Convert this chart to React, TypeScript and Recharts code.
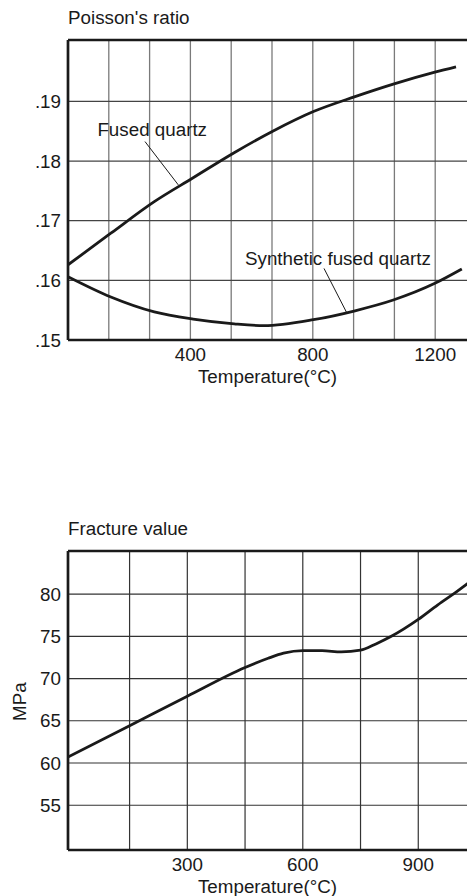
import React from 'react'
import {
  LineChart,
  Line,
  XAxis,
  YAxis,
  CartesianGrid,
  ReferenceLine,
  ReferenceDot,
} from 'recharts'

// Poisson's ratio vs temperature
const fusedTemp = [0, 140, 282, 409, 543, 669, 802, 938, 1063, 1199, 1268]
const fusedRatio = [0.1626, 0.1679, 0.1732, 0.1772, 0.1814, 0.185, 0.1883, 0.1908, 0.1929, 0.1949, 0.1958]
const synthTemp = [0, 140, 282, 409, 543, 640, 802, 938, 1063, 1199, 1287]
const synthRatio = [0.1606, 0.1572, 0.1547, 0.1535, 0.1527, 0.1524, 0.1534, 0.1549, 0.1567, 0.1595, 0.1619]
const ratioTicks = [0.15, 0.16, 0.17, 0.18, 0.19]
const ratioGridTemps = [0, 133.33, 266.67, 400, 533.33, 666.67, 800, 933.33, 1066.67, 1200]
const ratioTempLabels = [400, 800, 1200]

// Fracture value vs temperature
const fractureTemp = [-10, 150, 300, 450, 510, 550, 600, 650, 700, 750, 790, 830, 900, 950, 1000, 1030]
const fractureMPa = [60.7, 64.4, 67.9, 71.3, 72.4, 73.0, 73.3, 73.3, 73.15, 73.35, 74.1, 75.0, 77.0, 78.7, 80.3, 81.3]
const mpaTicks = [55, 60, 65, 70, 75, 80]
const fractureGridTemps = [150, 300, 450, 600, 750, 900]
const fractureTempLabels = [300, 600, 900]

const INK = '#1a1a1a'
const FONT = '"Liberation Sans", Arial, Helvetica, sans-serif'
const FS = 18.8
const tickStyle = { fontSize: FS, fill: INK }
const frame = { stroke: INK, strokeWidth: 2.7 }

const fusedData = fusedTemp.map((t, i) => ({ t, v: fusedRatio[i] }))
const synthData = synthTemp.map((t, i) => ({ t, v: synthRatio[i] }))
const fractureData = fractureTemp.map((t, i) => ({ t, v: fractureMPa[i] }))

const RATIO_DOMAIN: [number, number] = [0.15, 0.2003]
const MPA_DOMAIN: [number, number] = [49.7, 85.1]

const annotation = (text: string) => (p: any) => (
  <text x={p.cx} y={p.cy} fontSize={FS} fill={INK}>
    {text}
  </text>
)

function PoissonChart() {
  return (
    <LineChart width={476} height={400} margin={{ top: 40, right: 0, bottom: 0, left: 0 }}>
      <CartesianGrid horizontal={false} stroke="#7a7a7a" strokeWidth={1.3} />
      <CartesianGrid vertical={false} stroke="#444" strokeWidth={1.2} />
      <XAxis
        dataKey="t"
        type="number"
        domain={[0, 1333.33]}
        ticks={ratioGridTemps}
        interval={0}
        allowDataOverflow
        tickLine={false}
        axisLine={frame}
        tick={tickStyle}
        tickFormatter={(v) => (ratioTempLabels.includes(v) ? String(v) : '')}
        height={60}
        label={{ value: 'Temperature(°C)', position: 'insideBottom', offset: 16.7, dx: -4.5, fontSize: FS, fill: INK }}
      />
      <YAxis
        type="number"
        domain={RATIO_DOMAIN}
        ticks={ratioTicks}
        allowDataOverflow
        width={68}
        tickLine={false}
        axisLine={frame}
        tick={tickStyle}
        tickMargin={1}
        tickFormatter={(v) => '.' + Math.round(v * 100)}
      />
      <ReferenceLine y={RATIO_DOMAIN[1]} {...frame} />
      <Line data={fusedData} dataKey="v" type="monotone" stroke={INK} strokeWidth={2.8} dot={false} activeDot={false} isAnimationActive={false} />
      <Line data={synthData} dataKey="v" type="monotone" stroke={INK} strokeWidth={2.8} dot={false} activeDot={false} isAnimationActive={false} />
      <ReferenceLine segment={[{ x: 251.6, y: 0.18327 }, { x: 360.5, y: 0.176 }]} stroke={INK} strokeWidth={1} />
      <ReferenceLine segment={[{ x: 836.6, y: 0.162 }, { x: 910.8, y: 0.15458 }]} stroke={INK} strokeWidth={1} />
      <ReferenceDot x={96} y={0.1842} r={0} shape={annotation('Fused quartz')} />
      <ReferenceDot x={578.4} y={0.16258} r={0} shape={annotation('Synthetic fused quartz')} />
    </LineChart>
  )
}

function FractureChart() {
  return (
    <LineChart width={476} height={399} margin={{ top: 40, right: 0, bottom: 0, left: 0 }}>
      <CartesianGrid stroke="#333" strokeWidth={1.2} />
      <XAxis
        dataKey="t"
        type="number"
        domain={[-10, 1050]}
        ticks={fractureGridTemps}
        interval={0}
        allowDataOverflow
        tickLine={false}
        axisLine={frame}
        tick={tickStyle}
        tickFormatter={(v) => (fractureTempLabels.includes(v) ? String(v) : '')}
        height={60}
        label={{ value: 'Temperature(°C)', position: 'insideBottom', offset: 16.7, dx: -4.5, fontSize: FS, fill: INK }}
      />
      <YAxis
        type="number"
        domain={MPA_DOMAIN}
        ticks={mpaTicks}
        allowDataOverflow
        width={68}
        tickLine={false}
        axisLine={frame}
        tick={tickStyle}
        tickMargin={1}
      />
      <ReferenceLine y={MPA_DOMAIN[1]} {...frame} />
      <Line data={fractureData} dataKey="v" type="monotone" stroke={INK} strokeWidth={2.8} dot={false} activeDot={false} isAnimationActive={false} />
    </LineChart>
  )
}

export default function App() {
  return (
    <div
      style={{
        position: 'fixed',
        left: 0,
        top: 0,
        width: 467,
        height: 896,
        overflow: 'hidden',
        background: '#fff',
        fontFamily: FONT,
      }}
    >
      <div style={{ position: 'absolute', left: 0, top: 0 }}>
        <PoissonChart />
      </div>
      <div style={{ position: 'absolute', left: 0, top: 511 }}>
        <FractureChart />
      </div>
      <svg width={467} height={896} style={{ position: 'absolute', left: 0, top: 0, pointerEvents: 'none' }}>
        <text x={68} y={24} fontSize={FS} fill={INK}>
          Poisson's ratio
        </text>
        <text x={68} y={535} fontSize={FS} fill={INK}>
          Fracture value
        </text>
        <text transform="translate(26,701.7) rotate(-90)" textAnchor="middle" fontSize={FS} fill={INK}>
          MPa
        </text>
      </svg>
    </div>
  )
}
